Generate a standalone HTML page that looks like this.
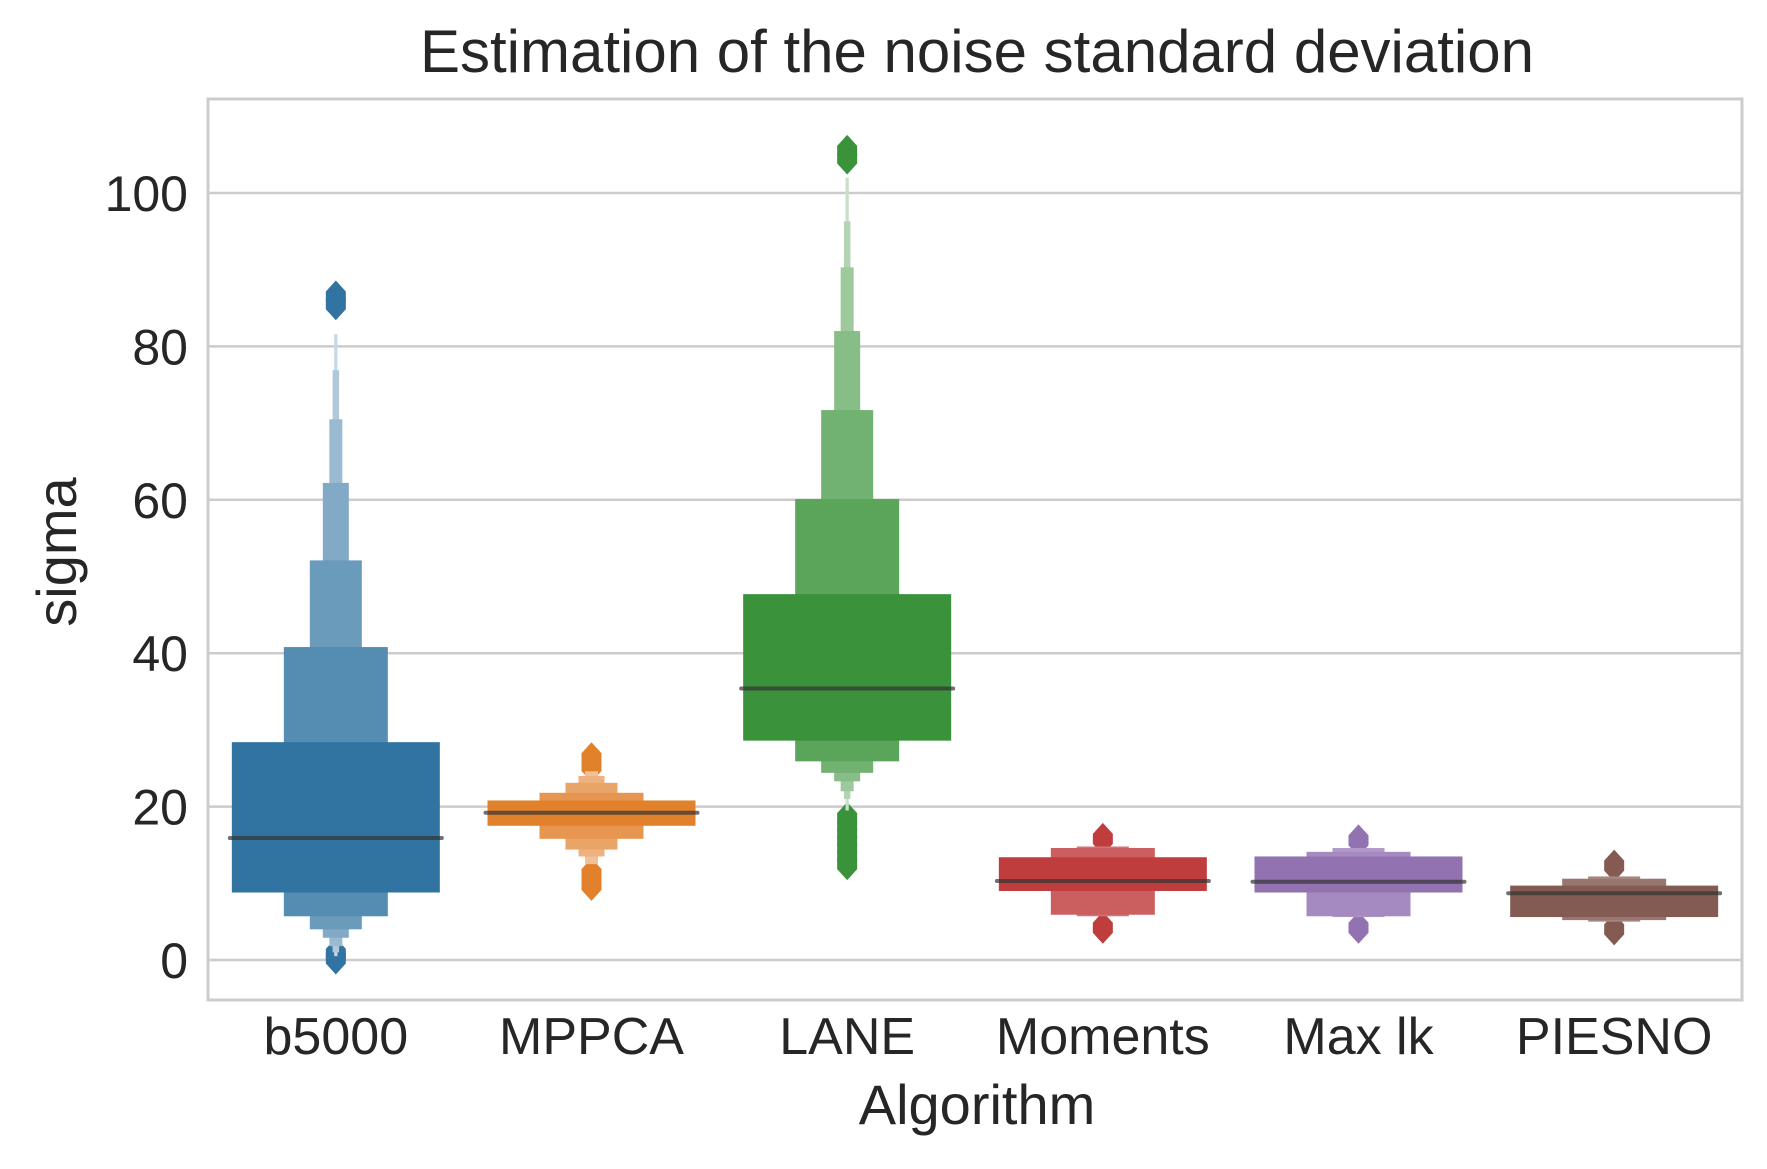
<!DOCTYPE html>
<html><head><meta charset="utf-8"><style>
body{margin:0;background:#fff}
svg text{font-family:"Liberation Sans",Arial,sans-serif;fill:#262626}
</style></head><body>
<svg id="chart" width="1767" height="1164" viewBox="0 0 1767 1164" xmlns="http://www.w3.org/2000/svg">
<rect width="1767" height="1164" fill="#fff"/>
<text x="977" y="72" font-size="60" text-anchor="middle">Estimation of the noise standard deviation</text>
<g id="grid"></g>
<g id="marks"></g>
<rect x="208" y="99" width="1534" height="901" fill="none" stroke="#cccccc" stroke-width="3"/>
<g id="axes"></g>
<text x="0" y="0" font-size="56" text-anchor="middle" transform="translate(76 552) rotate(-90)">sigma</text>
<text x="977" y="1124" font-size="56" text-anchor="middle">Algorithm</text>
</svg>
<script>
const categories = ["b5000","MPPCA","LANE","Moments","Max lk","PIESNO"];
const medians = [15.9, 19.2, 35.4, 10.3, 10.2, 8.7];
const levelsB5000 = [[8.8,28.4],[5.7,40.8],[4.0,52.1],[2.9,62.2],[1.8,70.5],[1.0,76.9],[0.5,81.6]];
const levelsMPPCA = [[17.5,20.8],[15.8,21.8],[14.4,23.1],[13.5,24.0],[12.5,24.6]];
const levelsLANE = [[28.6,47.7],[25.9,60.1],[24.4,71.7],[23.3,82.0],[22.0,90.3],[21.0,96.3],[19.5,102]];
const levelsMoments = [[9.0,13.4],[5.9,14.6],[5.7,14.8]];
const levelsMaxlk = [[8.8,13.5],[5.7,14.1],[5.6,14.6]];
const levelsPIESNO = [[5.6,9.7],[5.2,10.6],[5.0,10.9]];
const outliersLow = [[0.2,0.8],[9.8,10.5,11.2],[12.5,13.5,14.5,15.5,16.5,17.5,18.5],[4.2],[4.2],[4.0]];
const outliersHigh = [[85.5,86.5],[25.3,26.3],[104.5,105.5],[15.8],[15.6],[12.3]];
const yTicks = [0,20,40,60,80,100];

const allLevels=[levelsB5000,levelsMPPCA,levelsLANE,levelsMoments,levelsMaxlk,levelsPIESNO];
const colors=["#3274a1","#e1812c","#3a923a","#c03d3e","#9372b2","#845b53"];
const NS="http://www.w3.org/2000/svg";
const L=208,R=1742,T=99,B=1000;
const y=v=>960-v*(960-193)/100;
const band=(R-L)/categories.length;
const xc=i=>L+band*(i+0.5);
const BW=208;
function mk(tag,attrs,parent){const e=document.createElementNS(NS,tag);for(const k in attrs)e.setAttribute(k,attrs[k]);parent.appendChild(e);return e;}
function lighten(hex,f){const n=parseInt(hex.slice(1),16);let r=n>>16,g=(n>>8)&255,b=n&255;r=Math.round(r+(255-r)*f);g=Math.round(g+(255-g)*f);b=Math.round(b+(255-b)*f);return `rgb(${r},${g},${b})`;}
const grid=document.getElementById('grid'),marks=document.getElementById('marks'),axes=document.getElementById('axes');
yTicks.forEach(t=>{
 const l=mk('line',{x1:L,x2:R,y1:y(t),y2:y(t),stroke:'#cccccc','stroke-width':2.5},grid);
 
 
 const tx=mk('text',{x:L-20,y:y(t)+18,'font-size':50,'text-anchor':'end'},axes);
 tx.textContent=t;
 
 
});
categories.forEach((c,i)=>{
 const g=mk('g',{},marks);
 
 
 const lv=allLevels[i];const n=lv.length;
 outliersLow[i].concat(outliersHigh[i]).forEach(v=>{
  const cx=xc(i),cy=y(v);
  const d=mk('path',{d:`M${cx} ${cy-16}L${cx+10} ${cy-5}L${cx+10} ${cy+5}L${cx} ${cy+16}L${cx-10} ${cy+5}L${cx-10} ${cy-5}Z`,fill:colors[i]},g);
  
  
 });
 for(let k=n-1;k>=0;k--){
  const w=BW*Math.pow(0.5,k);
  const f=k===0?0:Math.min(0.75,0.06+k*0.11);
  const r=mk('rect',{x:xc(i)-w/2,y:y(lv[k][1]),width:w,height:y(lv[k][0])-y(lv[k][1]),fill:lighten(colors[i],f)},g);
  
  
 }
 const m=mk('line',{x1:xc(i)-BW/2-2,x2:xc(i)+BW/2+2,y1:y(medians[i]),y2:y(medians[i]),stroke:'#333','stroke-opacity':0.7,'stroke-width':4,'stroke-linecap':'round'},g);
 
 
 const tx=mk('text',{x:xc(i),y:1054,'font-size':52,'text-anchor':'middle'},axes);
 tx.textContent=c;
 
 
});
</script>
</body></html>
